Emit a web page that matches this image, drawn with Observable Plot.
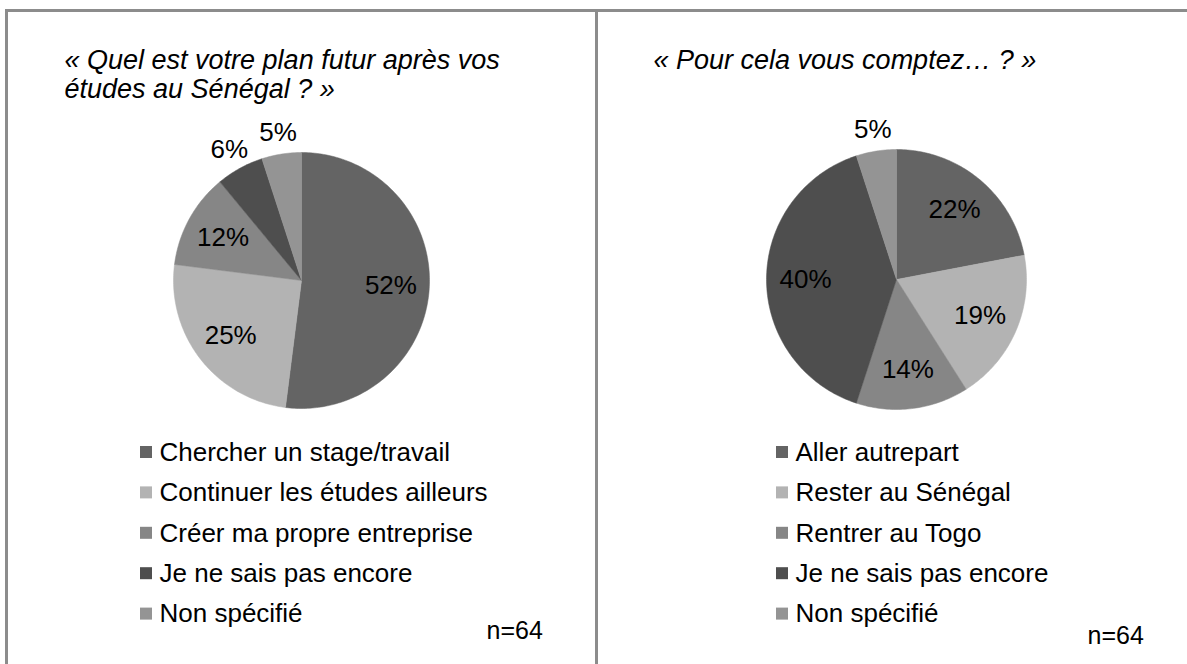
<!DOCTYPE html>
<html><head><meta charset="utf-8">
<script src="https://cdn.jsdelivr.net/npm/d3@7"></script>
<script src="https://cdn.jsdelivr.net/npm/@observablehq/plot@0.6"></script>
<style>
html,body{margin:0;padding:0;background:#fff;}
#root{position:relative;width:1187px;height:664px;overflow:hidden;}
#root svg{position:absolute;left:0;top:0;}
.line{position:absolute;background:#8c8c8c;pointer-events:none;}
</style></head><body>
<div id="root">
  <div class="line" style="left:5px;top:9px;width:1182px;height:2.5px"></div>
  <div class="line" style="left:5px;top:9px;width:3px;height:655px"></div>
  <div class="line" style="left:595px;top:9px;width:3px;height:655px"></div>
</div>
<script>
// ---- data ----
const titleLeft = ["« Quel est votre plan futur après vos", "études au Sénégal ? »"];
const titleRight = ["« Pour cela vous comptez… ? »"];
const categoriesLeft = ["Chercher un stage/travail", "Continuer les études ailleurs", "Créer ma propre entreprise", "Je ne sais pas encore", "Non spécifié"];
const valuesLeft = [52, 25, 12, 6, 5];
const categoriesRight = ["Aller autrepart", "Rester au Sénégal", "Rentrer au Togo", "Je ne sais pas encore", "Non spécifié"];
const valuesRight = [22, 19, 14, 40, 5];
const sampleNote = "n=64";

// ---- styles / layout ----
const palette = ["#646464", "#b3b3b3", "#868686", "#4e4e4e", "#949494"];
const W = 1187, H = 664;
const FONT = "'Liberation Sans', Arial, Helvetica, sans-serif";
const panels = [
  {titles: titleLeft, cats: categoriesLeft, vals: valuesLeft, cx: 301, cy: 280, r: 128,
   tx: 64, ty: 60, lx: 140, ly: 452, nx: 486, ny: 630},
  {titles: titleRight, cats: categoriesRight, vals: valuesRight, cx: 896, cy: 279, r: 130,
   tx: 653, ty: 60, lx: 776, ly: 452, nx: 1087, ny: 635}
];
const lineGap = 29, rowGap = 40.4, sq = 12;

const slicePts = [], labels = [], titleRows = [], legendSq = [], legendTx = [], notes = [];
panels.forEach((p, pi) => {
  const arcs = d3.pie().sort(null).value(d => d)(p.vals);
  const total = d3.sum(p.vals);
  arcs.forEach((a, i) => {
    const key = pi + "-" + i;
    slicePts.push({x: p.cx, y: p.cy, key, i});
    const n = Math.max(2, Math.ceil((a.endAngle - a.startAngle) * 180 / Math.PI));
    for (let k = 0; k <= n; k++) {
      const t = a.startAngle + (a.endAngle - a.startAngle) * k / n;
      slicePts.push({x: p.cx + p.r * Math.sin(t), y: p.cy - p.r * Math.cos(t), key, i});
    }
    slicePts.push({x: p.cx, y: p.cy, key, i});
    const mid = (a.startAngle + a.endAngle) / 2;
    const share = p.vals[i] / total;
    const f = share < 0.08 ? 1.17 : 0.7;
    labels.push({x: p.cx + f * p.r * Math.sin(mid), y: p.cy - f * p.r * Math.cos(mid),
                 text: Math.round(share * 100) + "%"});
    legendSq.push({x1: p.lx, x2: p.lx + sq, y1: p.ly + i * rowGap - sq / 2, y2: p.ly + i * rowGap + sq / 2, i});
    legendTx.push({x: p.lx + sq + 7, y: p.ly + i * rowGap, text: p.cats[i]});
  });
  p.titles.forEach((t, j) => titleRows.push({x: p.tx, y: p.ty + j * lineGap, text: t}));
  notes.push({x: p.nx, y: p.ny, text: sampleNote});
});

const chart = Plot.plot({
  width: W, height: H, margin: 0,
  x: {domain: [0, W], range: [0, W], axis: null},
  y: {domain: [0, H], range: [0, H], axis: null},
  style: {background: "transparent"},
  marks: [
    Plot.line(slicePts, {x: "x", y: "y", z: "key", fill: d => palette[d.i], stroke: d => palette[d.i], strokeWidth: 0.5, curve: "linear"}),
    Plot.text(labels, {x: "x", y: "y", text: "text", fontSize: 26, fontFamily: FONT, fill: "#000"}),
    Plot.text(titleRows, {x: "x", y: "y", text: "text", textAnchor: "start", fontSize: 27, fontStyle: "italic", fontFamily: FONT, fill: "#000"}),
    Plot.rect(legendSq, {x1: "x1", x2: "x2", y1: "y1", y2: "y2", fill: d => palette[d.i]}),
    Plot.text(legendTx, {x: "x", y: "y", text: "text", textAnchor: "start", fontSize: 26, fontFamily: FONT, fill: "#000"}),
    Plot.text(notes, {x: "x", y: "y", text: "text", textAnchor: "start", fontSize: 25, fontFamily: FONT, fill: "#000"})
  ]
});
document.getElementById("root").prepend(chart);
</script>
</body></html>
